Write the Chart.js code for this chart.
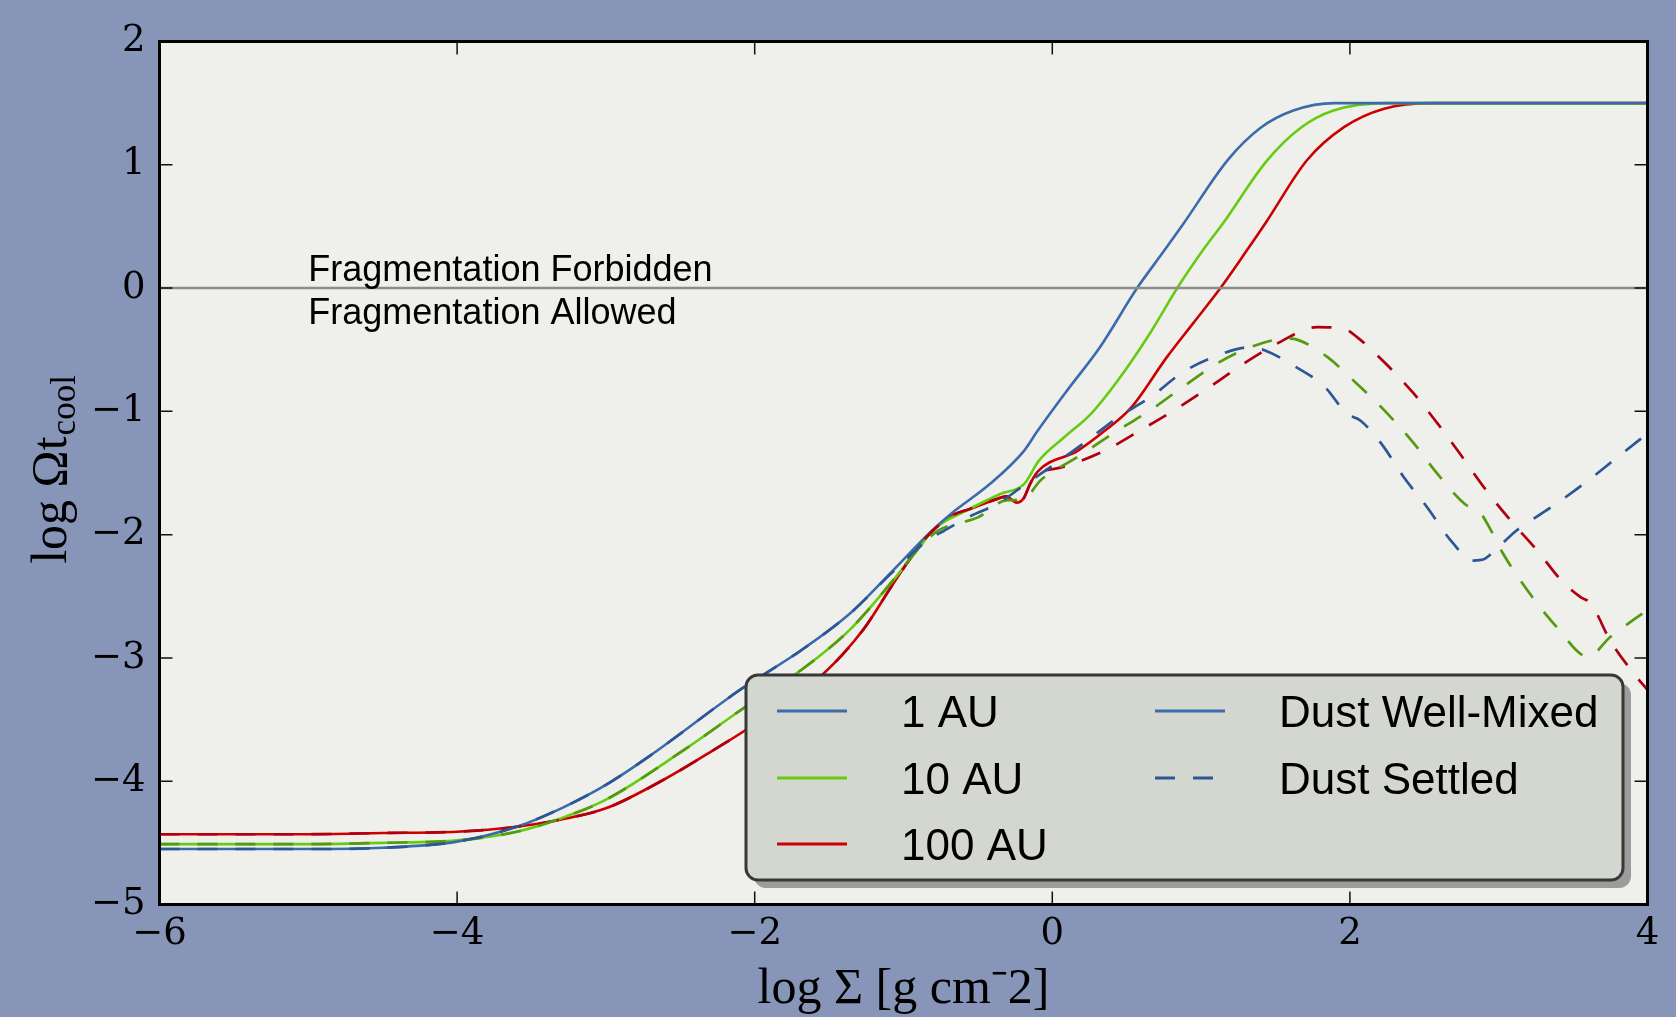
<!DOCTYPE html>
<html>
<head>
<meta charset="utf-8">
<script src="https://cdn.jsdelivr.net/npm/chart.js@4.4.1/dist/chart.umd.min.js"></script>
<style>
  html, body { margin: 0; padding: 0; background: #8795b9; }
  #wrap { width: 1676px; height: 1017px; position: relative; }
</style>
</head>
<body>
<div id="wrap"><canvas id="coolChart"></canvas></div>
<script>
// values: log Sigma -> log Omega t_cool
const radii = ['1 AU', '10 AU', '100 AU'];
const dustModes = ['Dust Well-Mixed', 'Dust Settled'];
const xTicks = [-6, -4, -2, 0, 2, 4];
const yTicks = [-5, -4, -3, -2, -1, 0, 1, 2];
const boundaryX = [-6, 4];
const boundaryY = [0, 0];
const noteAbove = 'Fragmentation Forbidden';
const noteBelow = 'Fragmentation Allowed';

// dust well-mixed (solid)
const mixed1X = [-6, -5, -4.5, -4, -3.6, -3.3, -3, -2.7, -2.1, -1.69, -1.36, -1.07, -0.82, -0.68, -0.42, -0.19, -0.1, 0.1, 0.32, 0.57, 0.75, 0.88, 1.18, 1.4, 1.62, 1.9, 2.3, 4];
const mixed1Y = [-4.55, -4.55, -4.54, -4.49, -4.37, -4.22, -4.03, -3.79, -3.26, -2.94, -2.64, -2.29, -1.98, -1.83, -1.59, -1.32, -1.16, -0.83, -0.48, 0, 0.3, 0.52, 1.04, 1.3, 1.44, 1.5, 1.5, 1.5];

const mixed10X = [-6, -5, -4.5, -4, -3.6, -3.3, -3, -2.48, -2.03, -1.69, -1.36, -1.09, -0.89, -0.8, -0.57, -0.35, -0.19, -0.09, 0.08, 0.26, 0.44, 0.66, 0.84, 1.02, 1.15, 1.44, 1.67, 1.89, 2.25, 4];
const mixed10Y = [-4.51, -4.51, -4.5, -4.48, -4.41, -4.3, -4.15, -3.75, -3.37, -3.1, -2.77, -2.4, -2.1, -1.96, -1.8, -1.67, -1.59, -1.4, -1.21, -1.02, -0.75, -0.36, 0, 0.32, 0.53, 1.03, 1.3, 1.44, 1.5, 1.5];

const mixed100X = [-6, -5, -4.5, -4, -3.6, -3.3, -3, -2.6, -2.28, -2.03, -1.54, -1.27, -1.07, -0.86, -0.68, -0.55, -0.37, -0.31, -0.24, -0.19, -0.15, -0.1, 0.17, 0.35, 0.53, 0.77, 0.95, 1.13, 1.31, 1.44, 1.71, 1.96, 2.23, 2.56, 4];
const mixed100Y = [-4.43, -4.43, -4.42, -4.41, -4.37, -4.31, -4.22, -3.98, -3.75, -3.56, -3.13, -2.77, -2.4, -2.04, -1.85, -1.79, -1.71, -1.69, -1.74, -1.7, -1.59, -1.49, -1.32, -1.16, -0.97, -0.56, -0.28, 0, 0.31, 0.54, 1.035, 1.305, 1.455, 1.5, 1.5];

// dust settled (dashed)
const settled1X = [-6, -5, -4.5, -4, -3.6, -3.3, -3, -2.7, -2.1, -1.69, -1.36, -1.07, -0.82, -0.73, -0.55, -0.37, -0.19, -0.01, 0.21, 0.44, 0.66, 0.88, 1.11, 1.33, 1.43, 1.62, 1.83, 1.98, 2.07, 2.21, 2.36, 2.52, 2.68, 2.83, 2.9, 2.95, 3.12, 3.35, 3.57, 3.8, 4];
const settled1Y = [-4.55, -4.55, -4.54, -4.49, -4.37, -4.22, -4.03, -3.79, -3.26, -2.94, -2.64, -2.3, -2.03, -1.97, -1.85, -1.75, -1.6, -1.45, -1.26, -1.05, -0.885, -0.68, -0.547, -0.48, -0.506, -0.628, -0.8, -1.02, -1.074, -1.26, -1.53, -1.78, -2.05, -2.21, -2.2, -2.155, -1.966, -1.78, -1.59, -1.37, -1.18];

const settled10X = [-6, -5, -4.5, -4, -3.6, -3.3, -3, -2.48, -2.03, -1.69, -1.36, -1.09, -0.89, -0.77, -0.5, -0.3, -0.2, -0.08, 0.17, 0.44, 0.66, 0.88, 1.11, 1.33, 1.58, 1.65, 1.85, 2.05, 2.23, 2.43, 2.59, 2.77, 2.88, 2.95, 3.03, 3.21, 3.39, 3.6, 3.75, 4];
const settled10Y = [-4.51, -4.51, -4.5, -4.48, -4.41, -4.3, -4.15, -3.75, -3.37, -3.1, -2.77, -2.4, -2.1, -1.97, -1.86, -1.72, -1.72, -1.56, -1.37, -1.155, -0.99, -0.8, -0.61, -0.48, -0.41, -0.42, -0.56, -0.78, -0.99, -1.26, -1.51, -1.75, -1.83, -1.97, -2.155, -2.48, -2.75, -2.99, -2.83, -2.61];

const settled100X = [-6, -5, -4.5, -4, -3.6, -3.3, -3, -2.6, -2.28, -2.03, -1.54, -1.27, -1.07, -0.86, -0.68, -0.55, -0.37, -0.31, -0.24, -0.19, -0.15, -0.1, 0, 0.1, 0.35, 0.59, 0.82, 1.06, 1.29, 1.51, 1.78, 1.96, 2.05, 2.23, 2.43, 2.59, 2.74, 2.9, 3.08, 3.26, 3.42, 3.55, 3.62, 3.75, 3.91, 4];
const settled100Y = [-4.43, -4.43, -4.42, -4.41, -4.37, -4.31, -4.22, -3.98, -3.75, -3.56, -3.13, -2.77, -2.4, -2.04, -1.85, -1.79, -1.71, -1.69, -1.74, -1.7, -1.59, -1.5, -1.47, -1.44, -1.32, -1.155, -0.99, -0.8, -0.61, -0.45, -0.317, -0.33, -0.4, -0.6, -0.857, -1.1, -1.344, -1.615, -1.885, -2.13, -2.37, -2.507, -2.56, -2.86, -3.13, -3.26];

const mixedX = [mixed1X, mixed10X, mixed100X];
const mixedY = [mixed1Y, mixed10Y, mixed100Y];
const settledX = [settled1X, settled10X, settled100X];
const settledY = [settled1Y, settled10Y, settled100Y];

// styles
const solidColors = ['#3a6caa', '#66cc11', '#cc0000'];
const dashColors = ['#2b5796', '#559a0f', '#b00010'];
const dashPattern = [20, 18];
const serif = 'Liberation Serif';
const tickFont = 'DejaVu Serif';
const sans = 'Liberation Sans';

function pts(xs, ys) {
    return xs.map((x, i) => ({x: x, y: ys[i]}));
}

function fmt(v) {
    return v < 0 ? '\u2212' + Math.abs(v) : String(v);
}

const datasets = [];
datasets.push({
    label: 'boundary',
    data: pts(boundaryX, boundaryY),
    borderColor: '#8c8c8c',
    borderWidth: 2.5,
    pointRadius: 0,
    order: -1
});
radii.forEach((r, i) => {
    datasets.push({
        label: r + ' settled',
        data: pts(settledX[i], settledY[i]),
        borderColor: dashColors[i],
        borderWidth: 2.7,
        borderDash: dashPattern,
        pointRadius: 0,
        cubicInterpolationMode: 'monotone',
        order: 0
    });
    datasets.push({
        label: r + ' mixed',
        data: pts(mixedX[i], mixedY[i]),
        borderColor: solidColors[i],
        borderWidth: 2.6,
        pointRadius: 0,
        cubicInterpolationMode: 'monotone',
        order: 1
    });
});

// plot background, frame with inward ticks, notes, y title, legend
const decor = {
    id: 'decor',
    beforeDraw(chart) {
        const a = chart.chartArea, c = chart.ctx;
        c.save();
        c.fillStyle = '#efefec';
        c.fillRect(a.left, a.top, a.right - a.left, a.bottom - a.top);
        c.restore();
    },
    afterDraw(chart) {
        const a = chart.chartArea, c = chart.ctx;
        const sx = chart.scales.x, sy = chart.scales.y;
        c.save();

        // inward ticks
        c.strokeStyle = '#111';
        c.lineWidth = 1.5;
        const tl = 13;
        xTicks.forEach(v => {
            const px = sx.getPixelForValue(v);
            c.beginPath();
            c.moveTo(px, a.bottom); c.lineTo(px, a.bottom - tl);
            c.moveTo(px, a.top); c.lineTo(px, a.top + tl);
            c.stroke();
        });
        yTicks.forEach(v => {
            const py = sy.getPixelForValue(v);
            c.beginPath();
            c.moveTo(a.left, py); c.lineTo(a.left + tl, py);
            c.moveTo(a.right, py); c.lineTo(a.right - tl, py);
            c.stroke();
        });

        // frame
        c.strokeStyle = '#000';
        c.lineWidth = 3;
        c.strokeRect(a.left, a.top, a.right - a.left, a.bottom - a.top);

        // notes around the zero line
        c.fillStyle = '#000';
        c.font = '36px "' + sans + '"';
        c.textAlign = 'left';
        c.textBaseline = 'alphabetic';
        const nx = sx.getPixelForValue(-5);
        c.fillText(noteAbove, nx, sy.getPixelForValue(0.06));
        c.fillText(noteBelow, nx, sy.getPixelForValue(-0.29));

        // y title with subscript
        c.save();
        c.translate(66, 470);
        c.rotate(-Math.PI / 2);
        const mainTxt = 'log \u03A9t', subTxt = 'cool';
        c.font = '50px "' + serif + '"';
        const w1 = c.measureText(mainTxt).width;
        c.font = '35px "' + serif + '"';
        const w2 = c.measureText(subTxt).width;
        const x0 = -(w1 + w2) / 2;
        c.font = '50px "' + serif + '"';
        c.fillText(mainTxt, x0, 0);
        c.font = '35px "' + serif + '"';
        c.fillText(subTxt, x0 + w1 + 1, 9);
        c.restore();

        // legend box
        const bx = 746, by = 675, bw = 877, bh = 205, rad = 12;
        c.fillStyle = '#9c9c9c';
        c.beginPath();
        c.roundRect(bx + 8, by + 8, bw, bh, rad);
        c.fill();
        c.fillStyle = '#d4d7cf';
        c.strokeStyle = '#383838';
        c.lineWidth = 3;
        c.beginPath();
        c.roundRect(bx, by, bw, bh, rad);
        c.fill();
        c.stroke();

        const rows = [711, 778, 844];
        c.font = '44px "' + sans + '"';
        c.fillStyle = '#000';
        c.lineWidth = 3;
        radii.forEach((r, i) => {
            c.strokeStyle = solidColors[i];
            c.setLineDash([]);
            c.beginPath();
            c.moveTo(777, rows[i]); c.lineTo(847, rows[i]);
            c.stroke();
            c.fillText(r, 901, rows[i] + 16);
        });
        dustModes.forEach((m, i) => {
            c.strokeStyle = i === 0 ? solidColors[0] : dashColors[0];
            c.setLineDash(i === 0 ? [] : dashPattern);
            c.beginPath();
            c.moveTo(1155, rows[i]); c.lineTo(i === 0 ? 1225 : 1217, rows[i]);
            c.stroke();
            c.setLineDash([]);
            c.fillText(m, 1279, rows[i] + 16);
        });
        c.restore();
    }
};

const ctx = document.getElementById('coolChart');
new Chart(ctx, {
    type: 'line',
    data: {datasets: datasets},
    options: {
        responsive: true,
        maintainAspectRatio: false,
        animation: false,
        layout: {padding: {top: 41.5, right: 28.5, left: 0, bottom: 0}},
        scales: {
            x: {
                type: 'linear',
                min: -6,
                max: 4,
                grid: {display: false, drawTicks: false},
                border: {display: false},
                ticks: {
                    stepSize: 2,
                    autoSkip: false,
                    maxRotation: 0,
                    padding: 8,
                    color: '#000',
                    font: {family: tickFont, size: 37},
                    callback: v => fmt(v)
                },
                title: {
                    display: true,
                    text: 'log \u03A3 [g cm\u207B2]',
                    color: '#000',
                    font: {family: serif, size: 50, lineHeight: 1.1},
                    padding: 0
                },
                afterFit: s => { s.height = 112.5; }
            },
            y: {
                type: 'linear',
                min: -5,
                max: 2,
                grid: {display: false, drawTicks: false},
                border: {display: false},
                ticks: {
                    stepSize: 1,
                    autoSkip: false,
                    padding: 14,
                    color: '#000',
                    font: {family: tickFont, size: 37},
                    callback: v => fmt(v)
                },
                afterFit: s => { s.width = 159.5; }
            }
        },
        plugins: {
            legend: {display: false},
            tooltip: {enabled: false}
        }
    },
    plugins: [decor]
});
</script>
</body>
</html>
